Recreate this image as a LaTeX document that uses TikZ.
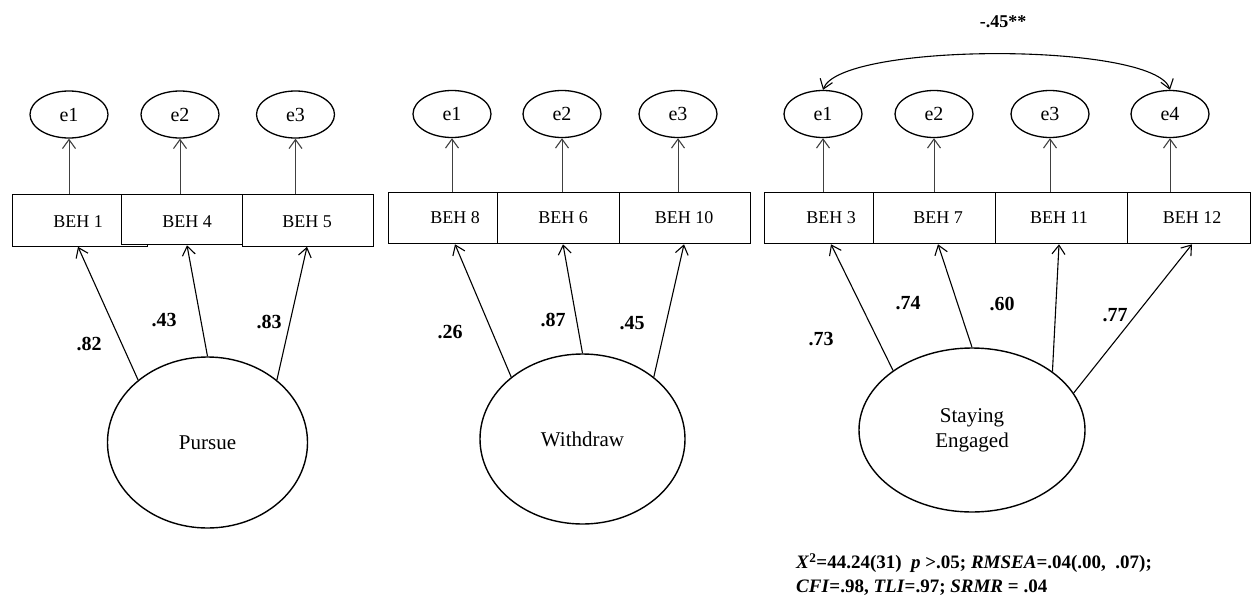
\documentclass[tikz,border=0pt]{standalone}
\usepackage{fontspec}
\setmainfont{Liberation Serif}
\usetikzlibrary{arrows.meta,shapes.geometric}

\begin{document}
\begin{tikzpicture}[x=1pt,y=-1pt,
  obs/.style={draw, line width=1.3pt, rectangle, inner sep=0pt, anchor=north west, minimum height=51pt},
  err/.style={draw, line width=1.3pt, ellipse, minimum width=78pt, minimum height=47pt, inner sep=0pt, font=\fontsize{20}{22}\selectfont},
  lat/.style={draw, line width=1.4pt, ellipse, inner sep=0pt, align=center, font=\fontsize{21}{25}\selectfont},
  itemlbl/.style={inner sep=0pt, font=\fontsize{18}{20}\selectfont},
  barb/.tip={Straight Barb[length=9pt,width=13pt,line width=1.1pt]},
  load/.style={-barb, line width=1.1pt},
  errarrow/.style={-barb, line width=0.9pt, draw=black!75},
  coef/.style={inner sep=0pt, font=\bfseries\fontsize{20}{22}\selectfont},
  fit/.style={inner sep=0pt, anchor=west, font=\bfseries\fontsize{19}{22}\selectfont},
]
\useasboundingbox (0,0) rectangle (1257,605);

% ---------- Pursue ----------
\node[obs, minimum width=135pt, minimum height=51.5pt] (p1) at (12,194) {};
\node[obs, minimum width=121pt, minimum height=50pt, fill=white] (p2) at (121,194) {};
\node[obs, minimum width=131pt, minimum height=51.5pt] (p3) at (242,194) {};
\node[itemlbl] (tp1) at (78,222) {BEH 1};
\node[itemlbl] (tp2) at (187,222) {BEH 4};
\node[itemlbl] (tp3) at (307,222) {BEH 5};

\node[err] (pe1) at (69,114.5) {e1};
\node[err] (pe2) at (180,114.5) {e2};
\node[err] (pe3) at (295.5,114.5) {e3};

\draw[errarrow] (pe1 |- p1.north) -- (pe1.south);
\draw[errarrow] (pe2 |- p2.north) -- (pe2.south);
\draw[errarrow] (pe3 |- p3.north) -- (pe3.south);

\node[lat, minimum width=200pt, minimum height=171pt] (P) at (207.5,442.5) {Pursue};

\draw[load] (P.138) -- (tp1 |- p1.south);
\draw[load] (P.90)  -- (tp2 |- p2.south);
\draw[load] (P.42)  -- (tp3 |- p3.south);

\node[coef] (cp1) at (89,344) {.82};
\node[coef] (cp2) at (164,320) {.43};
\node[coef] (cp3) at (269,322) {.83};

% ---------- Withdraw ----------
\node[obs, minimum width=109pt] (w1) at (388,192) {};
\node[obs, minimum width=122pt] (w2) at (497,192) {};
\node[obs, minimum width=131pt] (w3) at (619,192) {};
\node[itemlbl] (tw1) at (455,218) {BEH 8};
\node[itemlbl] (tw2) at (563,218) {BEH 6};
\node[itemlbl] (tw3) at (684,218) {BEH 10};

\node[err] (we1) at (452,114) {e1};
\node[err] (we2) at (562,114) {e2};
\node[err] (we3) at (678,114) {e3};

\draw[errarrow] (we1 |- w1.north) -- (we1.south);
\draw[errarrow] (we2 |- w2.north) -- (we2.south);
\draw[errarrow] (we3 |- w3.north) -- (we3.south);

\node[lat, minimum width=205pt, minimum height=170pt] (W) at (582.5,439) {Withdraw};

\draw[load] (W.139) -- (tw1 |- w1.south);
\draw[load] (W.90)  -- (tw2 |- w2.south);
\draw[load] (W.41)  -- (tw3 |- w3.south);

\node[coef] (cw1) at (450,332) {.26};
\node[coef] (cw2) at (553,320) {.87};
\node[coef] (cw3) at (632,323) {.45};

% ---------- Staying Engaged ----------
\node[obs, minimum width=109pt] (s1) at (764,192) {};
\node[obs, minimum width=122pt] (s2) at (873,192) {};
\node[obs, minimum width=132pt] (s3) at (995,192) {};
\node[obs, minimum width=123pt] (s4) at (1127,192) {};
\node[itemlbl] (ts1) at (831,218) {BEH 3};
\node[itemlbl] (ts2) at (938,218) {BEH 7};
\node[itemlbl] (ts3) at (1059,218) {BEH 11};
\node[itemlbl] (ts4) at (1192,218) {BEH 12};

\node[err] (se1) at (823,114) {e1};
\node[err] (se2) at (934,114) {e2};
\node[err] (se3) at (1050,114) {e3};
\node[err] (se4) at (1170,114) {e4};

\draw[errarrow] (se1 |- s1.north) -- (se1.south);
\draw[errarrow] (se2 |- s2.north) -- (se2.south);
\draw[errarrow] (se3 |- s3.north) -- (se3.south);
\draw[errarrow] (se4 |- s4.north) -- (se4.south);

% correlated residuals
\draw[barb-barb, line width=1.1pt] (se1.north) .. controls (840,42) and (1155,42) .. (se4.north);
\node[coef, font=\bfseries\fontsize{18}{20}\selectfont] (cov) at (1003,22) {-.45**};

\node[lat, minimum width=226pt, minimum height=164pt] (S) at (972,430) {Staying\\Engaged};

\draw[load] (S.143) -- (ts1 |- s1.south);
\draw[load] (S.90)  -- (ts2 |- s2.south);
\draw[load] (S.36)  -- (ts3 |- s3.south);
\draw[load] (S.20)  -- (ts4 |- s4.south);

\node[coef] (cs1) at (821,339) {.73};
\node[coef] (cs2) at (908,303) {.74};
\node[coef] (cs3) at (1002,304) {.60};
\node[coef] (cs4) at (1115,315) {.77};

% ---------- fit indices ----------
\node[fit] (fit1) at (796,563) {\textit{X}\textsuperscript{2}=44.24(31) \ \textit{p} >.05; \textit{RMSEA}=.04(.00, \ .07);};
\node[fit] (fit2) at (796,588) {\textit{CFI}=.98, \textit{TLI}=.97; \textit{SRMR} = .04};

\end{tikzpicture}
\end{document}
